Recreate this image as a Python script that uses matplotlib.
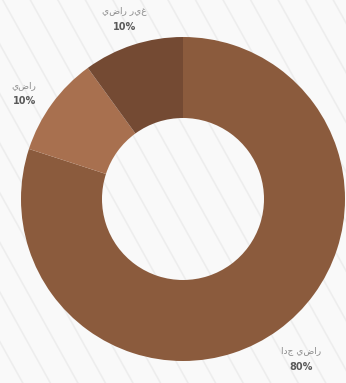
import numpy as np
import matplotlib.pyplot as plt

# satisfaction survey shares
labels = ['راضي جدا', 'راضي', 'غير راضي']
values = [80, 10, 10]
colors = ['#8b5b3d', '#a8704f', '#744a33']

bg = '#f9f9f9'

fig = plt.figure(figsize=(3.46, 3.83), dpi=100)
fig.patch.set_facecolor(bg)
ax = fig.add_axes([0, 0, 1, 1])
ax.set_facecolor(bg)

# faint diagonal stripes behind the chart
for c in np.arange(-4, 4, 0.17):
    ax.plot([c - 2, c + 2], [2 * 1.8, -2 * 1.8], color='#ebebeb', lw=1.2,
            alpha=0.8, zorder=0, solid_capstyle='butt')

wedges, _ = ax.pie(values, colors=colors, startangle=90, counterclock=False,
                   radius=1.0, wedgeprops=dict(width=0.5, linewidth=0))

total = float(sum(values))
label_pos = [(0.73, -1.0), (-0.98, 0.64), (-0.36, 1.1)]
for w, lab, v, (x, y) in zip(wedges, labels, values, label_pos):
    # matplotlib lays glyphs left to right, so reverse for right-to-left text
    ax.text(x, y + 0.035, lab[::-1], ha='center', va='bottom', fontsize=6.5,
            color='#8a8a8a', family=['DejaVu Sans'])
    ax.text(x, y - 0.005, '%d%%' % round(100 * v / total), ha='center', va='top',
            fontsize=7, fontweight='bold', color='#5a5a5a')

ax.set_aspect('equal')
ax.set_xlim(-183 / 162.0, 163 / 162.0)
ax.set_ylim(-184 / 162.0, 199 / 162.0)
ax.axis('off')

fig.savefig('out.png', dpi=100, facecolor=bg)
